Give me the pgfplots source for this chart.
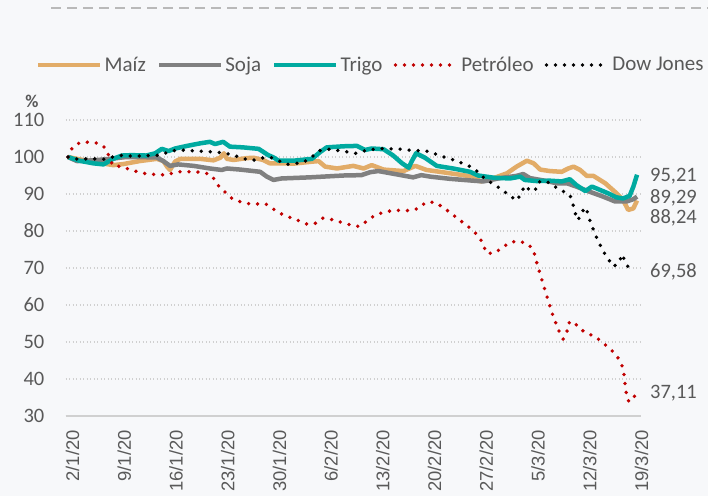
\documentclass[border=0pt]{standalone}
\usepackage{pgfplots}
\pgfplotsset{compat=1.18}
\usepackage{fontspec}
\setmainfont{Carlito}
\newfontfamily\xfont{Liberation Sans}
\definecolor{bg}{HTML}{F7F8FA}
\definecolor{txt}{HTML}{595959}
\definecolor{maiz}{HTML}{E2AC68}
\definecolor{soja}{HTML}{808080}
\definecolor{trigo}{HTML}{00AAA0}
\definecolor{petro}{HTML}{C00000}
\definecolor{gridc}{HTML}{D0D0D0}

\begin{document}
\begin{tikzpicture}
\path[use as bounding box, fill=bg] (0pt,0pt) rectangle (708pt,496pt);
\draw[gray!55, line width=2pt, dash pattern=on 10pt off 6pt] (51pt,488pt) -- (708pt,488pt);
\node[font=\fontsize{18}{20}\selectfont\bfseries, text=txt, inner sep=0pt] at (32pt,395pt) {\%};

\begin{axis}[
    at={(65.5pt,80pt)}, anchor=south west,
    scale only axis, width=574.5pt, height=296pt,
    xmin=-0.34, xmax=77.4, ymin=30, ymax=110,
    clip=false,
    axis line style={draw=none},
    tick style={draw=none},
    ytick={30,40,...,110},
    ymajorgrids,
    grid style={gridc, line width=1.3pt, dash pattern=on 1.3pt off 2.2pt},
    xtick={0,7,...,77},
    xticklabels={2/1/20,9/1/20,16/1/20,23/1/20,30/1/20,6/2/20,13/2/20,20/2/20,27/2/20,5/3/20,12/3/20,19/3/20},
    xticklabel style={xshift=4.5pt, yshift=-14pt, rotate=90, anchor=east, inner sep=0pt,
        font=\xfont\fontsize{18.4}{20}\selectfont, text=txt},
    yticklabel style={anchor=east, inner sep=0pt, xshift=-21pt,
        font=\fontsize{20.5}{24}\selectfont, text=txt},
    /pgf/number format/assume math mode=true,
    legend columns=5,
    legend cell align=left,
    legend style={at={(-0.0513,1.1858)}, anchor=west, draw=none, fill=none, inner sep=0pt,
        font=\fontsize{21}{24}\selectfont, text=txt,
        nodes={inner sep=2pt},
        /tikz/every even column/.append style={column sep=9pt}},
    legend image code/.code={\draw[#1] (0pt,0pt) -- (62pt,0pt);},
    every axis plot/.append style={line join=round},
]
\draw[gridc, line width=2pt] (axis cs:-0.34,30) -- (axis cs:77.4,30);

% Maiz
\addplot[maiz, line width=4.5pt] coordinates {
(0,100) (2,99.2) (4,98.5) (6.1,97.8) (7.5,98.1) (9.7,98.9) (12.0,99.5) (12.9,98.9)
(13.4,97.4) (13.8,96.5) (14.5,98.8) (15.2,99.5) (17.9,99.5) (19.7,99.1) (20.6,99.8)
(21.1,101.0) (21.5,99.5) (22.4,99.2) (24.2,99.7) (25.1,99.8) (26.4,99.2) (27.3,98.3)
(28.7,98.3) (30.5,98.2) (32.3,98.6) (33.9,98.9) (34.8,97.4) (36.4,96.9) (38.6,97.6)
(40.0,96.9) (41.1,97.8) (42.7,96.6) (45.4,96.2) (47.0,97.6) (48.5,96.5) (51.7,95.6)
(54.8,94.7) (55.8,93.4) (57.6,94.3) (59.4,95.6) (60.7,97.4) (62.1,99.0) (63.0,98.3)
(63.9,96.6) (65.2,96.2) (66.8,96.0) (67.7,96.9) (68.4,97.4) (69.3,96.5) (70.2,94.9)
(71.1,94.9) (72.7,92.9) (74.0,90.6) (75.1,88.4) (75.8,85.7) (76.5,86.1) (77,88.24)
};
\addlegendentry{Maíz}

% Soja
\addplot[soja, line width=4.5pt] coordinates {
(0,100) (1.2,98.9) (3.4,99.1) (5.7,99.5) (7.9,100.0) (12.0,99.9) (12.9,98.9) (13.8,97.6)
(14.9,98.0) (17,97.6) (19.2,96.9) (20.8,96.5) (21.5,96.9) (23.3,96.6) (26.0,96.0)
(26.9,94.7) (27.8,93.8) (28.9,94.2) (32.7,94.5) (37.3,95.0) (39.7,95.1) (40.9,95.9)
(42.0,96.2) (44.5,95.3) (46.7,94.5) (47.8,95.1) (49.0,94.7) (51.7,94.1) (54.8,93.6)
(56.2,93.4) (58.5,94.3) (60.7,94.9) (61.6,95.4) (62.5,94.3) (64.8,93.5) (66.1,92.9)
(67.5,92.9) (68.8,92.0) (70.6,90.6) (72.4,89.3) (74.0,88.0) (75.6,88.0) (76.5,88.6) (77,89.29)
};
\addlegendentry{Soja}

% Trigo
\addplot[trigo, line width=4.5pt] coordinates {
(0,100) (1.5,99.0) (3.4,98.3) (4.8,98.0) (6.1,99.5) (7.3,100.4) (8.6,100.5) (10.6,100.4)
(11.8,101.0) (12.7,102.2) (13.6,101.6) (14.5,102.3) (16.1,103.0) (17.9,103.7) (19.2,104.1)
(19.9,103.5) (21.0,104.1) (21.9,102.8) (23.7,102.6) (25.8,102.2) (27.1,100.5) (27.8,99.9)
(28.5,99.0) (30.5,99.0) (33,99.5) (34.1,101.3) (35,102.6) (37.3,102.9) (39.1,103.0)
(40.2,101.9) (41.1,102.3) (42.7,102.1) (44.0,100.4) (45.2,98.3) (46.1,97.1) (46.5,98.8)
(47.1,101.0) (48.3,99.8) (49.9,97.6) (52.1,96.9) (54.4,96.0) (55.5,95.0) (57.6,94.4)
(59.8,94.2) (61.2,94.7) (61.8,93.8) (63.4,93.5) (65.2,93.6) (66.8,93.4) (67.9,94.0)
(68.8,92.4) (70.0,90.8) (70.9,92.0) (72.0,91.1) (73.3,90.0) (74.2,89.1) (75.1,88.8)
(76.0,89.5) (76.5,92.0) (77,95.21)
};
\addlegendentry{Trigo}

% Petroleo
\addplot[petro, line width=3.8pt, line cap=round, dash pattern=on 0pt off 9pt] coordinates {
(0,100) (0.6,102.6) (1.7,104.0) (3.0,104.0) (4.2,103.7) (5.2,102.2) (5.6,99.8) (6.1,97.6)
(7.3,97.4) (8.5,96.5) (9.8,95.8) (11,95.3) (12.2,95.3) (13.4,95.1) (14.6,96.0) (15.8,96.0)
(17.1,96.0) (18.4,95.8) (19.5,95.0) (20.1,92.7) (21,91.1) (21.9,89.1) (23,88.1) (24.3,87.4)
(25.5,87.3) (26.7,87.4) (27.8,85.9) (28.8,84.7) (30,83.7) (31.2,82.8) (32.4,81.8) (33.4,82.0)
(34.5,83.5) (35.7,83.1) (36.9,82.4) (38.1,81.7) (39.4,81.2) (40.4,82.6) (41.4,84.1)
(42.6,85.0) (43.8,85.5) (45.0,85.6) (46.3,85.5) (47.4,86.1) (48.4,87.7) (49.6,87.8)
(50.6,86.6) (51.7,85.0) (52.7,83.4) (53.7,81.9) (54.7,80.3) (55.6,78.5) (56.2,76.4)
(56.6,74.0) (57.6,74.0) (58.7,75.3) (59.7,76.9) (60.9,77.3) (62.2,76.6) (63.0,74.8)
(63.3,72.3) (64.4,65.0) (65.5,57.8) (66.4,53.1) (67.0,50.8) (67.5,52.6) (67.7,55.1)
(68.4,55.6) (69.2,53.6) (70.2,52.4) (71.4,51.4) (72.4,49.7) (73.4,48.1) (74.2,46.4)
(74.9,44.2) (75.2,41.7) (75.5,36.7) (75.8,34.1) (76.4,34.1) (77,37.11)
};
\addlegendentry{Petróleo}

% Dow Jones
\addplot[black, line width=3.8pt, line cap=round, dash pattern=on 0pt off 9pt] coordinates {
(0,100) (1.3,99.4) (2.5,99.5) (3.8,99.5) (5.0,99.4) (6.2,100.1) (7.4,100.5) (8.7,100.2)
(10,100.3) (11.2,100.4) (12.5,100.5) (13.7,101.5) (14.9,101.9) (16.2,101.8) (17.5,101.6)
(18.7,101.5) (20,101.3) (21.2,101.1) (22.5,100.4) (23.7,99.6) (24.9,99.0) (26.1,99.7)
(27.3,100.0) (28.3,99.2) (29.5,98.0) (30.7,98.2) (31.9,98.6) (33,100) (34,101.7)
(35.2,102.1) (36.4,101.8) (37.7,101.4) (38.9,101.0) (40.2,101.7) (41.4,102.1) (42.6,102.3)
(43.9,102.2) (45.1,102.1) (46.4,101.8) (47.6,101.7) (48.9,101.5) (50,100.6) (51.2,99.8)
(52.5,99.0) (53.6,98.1) (54.8,97.1) (55.7,95.5) (56.5,93.9) (57.6,92.7) (58.6,91.3)
(59.7,89.7) (60.7,88.2) (61.3,90.0) (61.8,92.3) (62.5,91.0) (63.2,90.9) (63.6,93.2)
(64.6,93.6) (65.7,92.2) (66.8,90.9) (67.9,89.8) (68.3,87.5) (68.6,85.0) (69.0,82.9)
(69.5,85.1) (70.1,86.4) (70.4,84.1) (71.3,79.2) (72.4,74.6) (73.1,72.4) (73.8,70.4)
(74.5,71.3) (75.0,73.7) (75.4,71.6) (76,69.58)
};
\addlegendentry{Dow Jones}

\begin{scope}[every node/.style={anchor=west, inner sep=0pt, text=txt, font=\fontsize{20.5}{22}\selectfont}]
\node at (axis cs:78.75,94.7) {95,21};
\node at (axis cs:78.75,89.0) {89,29};
\node at (axis cs:78.75,83.7) {88,24};
\node at (axis cs:78.75,68.9) {69,58};
\node at (axis cs:78.75,36.2) {37,11};
\end{scope}
\end{axis}
\end{tikzpicture}
\end{document}
